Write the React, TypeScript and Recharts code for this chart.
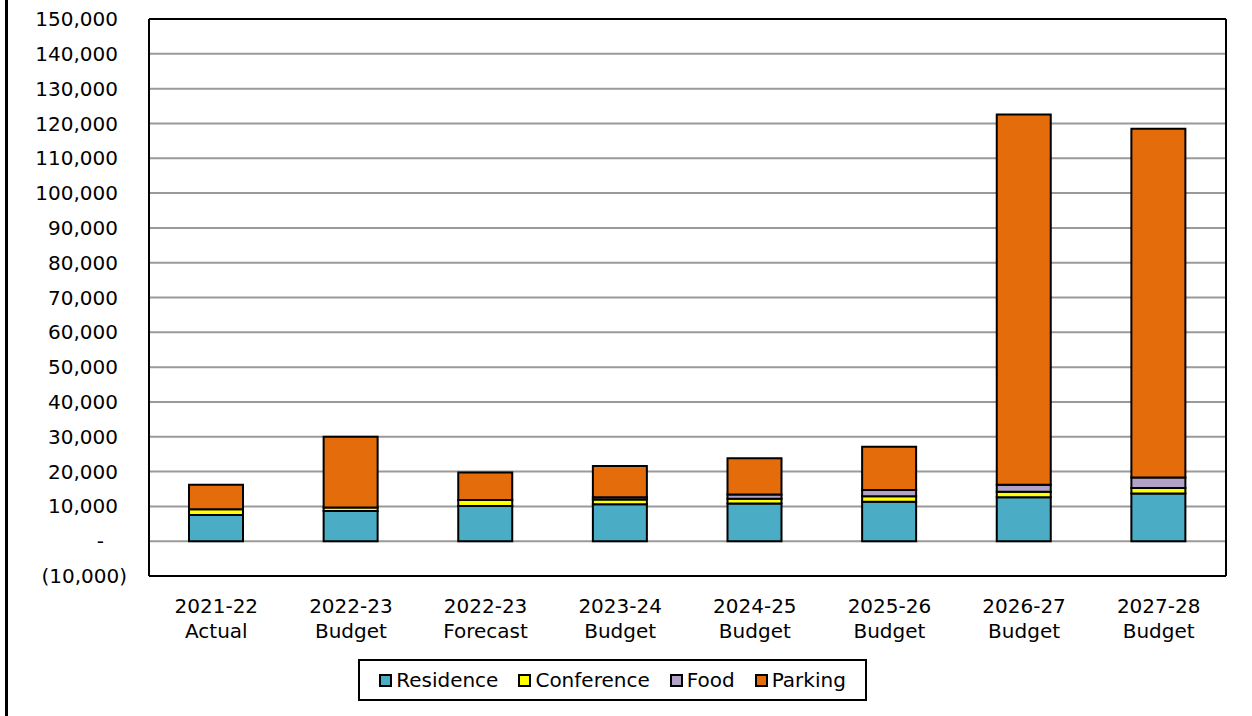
import { BarChart, Bar, XAxis, YAxis, CartesianGrid, ReferenceLine } from 'recharts'

const years = ['2021-22', '2022-23', '2022-23', '2023-24', '2024-25', '2025-26', '2026-27', '2027-28']
const kinds = ['Actual', 'Budget', 'Forecast', 'Budget', 'Budget', 'Budget', 'Budget', 'Budget']

const residence = [7500, 8700, 10100, 10600, 10800, 11300, 12600, 13700]
const conference = [1700, 1000, 1700, 1400, 1400, 1600, 1600, 1600]
const food = [0, 0, 0, 600, 1200, 1800, 2000, 3000]
const parking = [7000, 20300, 7900, 9000, 10400, 12400, 106400, 100200]

const yTicks = [-10000, 0, 10000, 20000, 30000, 40000, 50000, 60000, 70000, 80000, 90000, 100000, 110000, 120000, 130000, 140000, 150000]

const series = [
  { key: 'residence', name: 'Residence', color: '#4bacc6' },
  { key: 'conference', name: 'Conference', color: '#ffff00' },
  { key: 'food', name: 'Food', color: '#b3a2c7' },
  { key: 'parking', name: 'Parking', color: '#e46c0a' },
]

const data = years.map((y, i) => ({
  cat: i,
  year: y,
  kind: kinds[i],
  residence: residence[i],
  conference: conference[i],
  food: food[i],
  parking: parking[i],
}))

const FONT = "'DejaVu Sans', Verdana, sans-serif"

function fmt(v: number) {
  if (v === 0) return '-'
  const s = Math.abs(v).toLocaleString('en-US')
  return v < 0 ? `(${s})` : s
}

function YTick(props: any) {
  const { x, y, payload } = props
  const v = Number(payload.value)
  const off = v === 0 ? 45 : v < 0 ? 22 : 31
  return (
    <text x={x - off} y={y} dy="0.355em" textAnchor="end" fontSize={20} fill="#000" fontFamily={FONT}>
      {fmt(v)}
    </text>
  )
}

function XTick(props: any) {
  const { x, y, payload } = props
  const d = data[payload.index] ?? data[payload.value]
  return (
    <text x={x} y={y} textAnchor="middle" fontSize={20} fill="#000" fontFamily={FONT}>
      <tspan x={x} dy={37}>{d.year}</tspan>
      <tspan x={x} dy={25}>{d.kind}</tspan>
    </text>
  )
}

export default function App() {
  return (
    <div style={{ position: 'absolute', left: 0, top: 0, width: 1252, height: 716, background: '#fff', fontFamily: FONT }}>
      <div style={{ position: 'absolute', left: 5, top: 0, width: 3, height: 716, background: '#000' }} />
      <BarChart
        width={1252}
        height={716}
        data={data}
        margin={{ top: 19, right: 24, left: 0, bottom: 0 }}
        barSize={54}
      >
        <CartesianGrid vertical={false} stroke="#9a9a9a" strokeWidth={2} />
        <XAxis
          dataKey="cat"
          height={140}
          tickLine={false}
          tickSize={0}
          tickMargin={0}
          axisLine={{ stroke: '#000', strokeWidth: 2 }}
          tick={<XTick />}
          interval={0}
        />
        <YAxis
          width={149}
          domain={[-10000, 150000]}
          ticks={yTicks}
          interval={0}
          tickLine={false}
          tickSize={0}
          tickMargin={0}
          axisLine={{ stroke: '#000', strokeWidth: 2 }}
          tick={<YTick />}
        />
        <YAxis
          yAxisId="right"
          orientation="right"
          width={2}
          domain={[-10000, 150000]}
          tick={false}
          tickLine={false}
          axisLine={{ stroke: '#000', strokeWidth: 2 }}
        />
        {series.map(s => (
          <Bar
            key={s.key}
            dataKey={s.key}
            name={s.name}
            stackId="a"
            fill={s.color}
            stroke="#000"
            strokeWidth={2}
            isAnimationActive={false}
          />
        ))}
        <ReferenceLine y={150000} stroke="#000" strokeWidth={2} />
      </BarChart>
      <div
        style={{
          position: 'absolute',
          left: 358,
          top: 659,
          width: 509,
          height: 42,
          boxSizing: 'border-box',
          border: '2px solid #000',
          display: 'flex',
          alignItems: 'center',
          justifyContent: 'center',
          gap: 20,
          fontSize: 20,
          color: '#000',
        }}
      >
        {series.map(s => (
          <div key={s.key} style={{ display: 'flex', alignItems: 'center' }}>
            <span style={{ display: 'inline-block', width: 9, height: 9, background: s.color, border: '2px solid #000', marginRight: 4 }} />
            <span>{s.name}</span>
          </div>
        ))}
      </div>
    </div>
  )
}
